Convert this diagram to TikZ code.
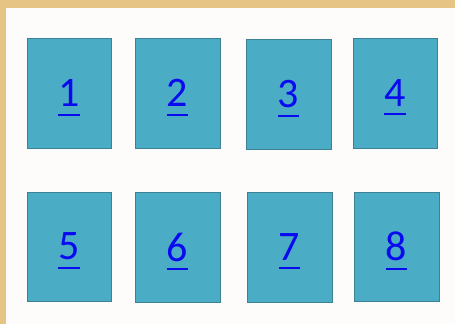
\documentclass[tikz,border=0pt]{standalone}
\usepackage{fontspec}
\setmainfont{Carlito}
\definecolor{tanbg}{RGB}{230,196,132}
\definecolor{panel}{RGB}{253,252,250}
\definecolor{boxfill}{RGB}{75,172,198}
\definecolor{boxline}{RGB}{62,128,148}
\definecolor{linkblue}{RGB}{10,10,240}
\newcommand\myul[1]{\setbox0\hbox{#1}\rlap{\rule[-9pt]{\wd0}{2pt}}#1}
\tikzset{
  tile/.style={draw=boxline, line width=1pt, fill=boxfill, rectangle, inner sep=0pt,
    text=linkblue, font=\fontsize{42}{50}\selectfont, text depth=0pt},
}
\begin{document}
\begin{tikzpicture}[x=1pt,y=-1pt]
\useasboundingbox (0,0) rectangle (455,324);
\fill[tanbg] (0,0) rectangle (455,324);
\fill[panel] (6,8) rectangle (455,324);
\newcommand\tilebox[6]{%
  \node[tile, minimum width={#4-#2}, minimum height={#5-#3}] (b#1) at ({(#2+#4)/2},{(#3+#5)/2}) {\myul{#6}};}
\tilebox{1}{27}{38}{111}{148}{1}
\tilebox{2}{135}{38}{220}{148}{2}
\tilebox{3}{246}{39}{331}{149}{3}
\tilebox{4}{353}{38}{437}{148}{4}
\tilebox{5}{27}{192}{111}{301}{5}
\tilebox{6}{135}{192}{220}{302}{6}
\tilebox{7}{247}{192}{332}{302}{7}
\tilebox{8}{354}{192}{439}{301}{8}
\end{tikzpicture}
\end{document}
